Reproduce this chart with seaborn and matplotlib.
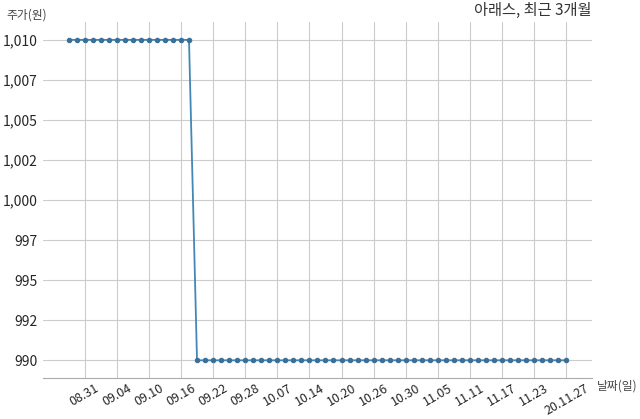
import matplotlib
matplotlib.use("Agg")
import matplotlib.pyplot as plt
import matplotlib.ticker as mticker
import seaborn as sns
import pandas as pd

# trading days (2020) and closing prices
dates = ["08.27", "08.28", "08.31", "09.01", "09.02", "09.03", "09.04",
         "09.07", "09.08", "09.09", "09.10", "09.11", "09.14", "09.15",
         "09.16", "09.17", "09.18", "09.21", "09.22", "09.23", "09.24",
         "09.25", "09.28", "09.29", "10.05", "10.06", "10.07", "10.08",
         "10.12", "10.13", "10.14", "10.15", "10.16", "10.19", "10.20",
         "10.21", "10.22", "10.23", "10.26", "10.27", "10.28", "10.29",
         "10.30", "11.02", "11.03", "11.04", "11.05", "11.06", "11.09",
         "11.10", "11.11", "11.12", "11.13", "11.16", "11.17", "11.18",
         "11.19", "11.20", "11.23", "11.24", "11.25", "11.26", "20.11.27"]
prices = [1010] * 16 + [990] * 47
tick_every = 4

sns.set_style("whitegrid")
plt.rcParams['font.family'] = ['Noto Sans CJK KR', 'DejaVu Sans']

df = pd.DataFrame({"idx": range(len(dates)), "price": prices})

fig = plt.figure(figsize=(6.4, 4.19), dpi=100)
ax = fig.add_axes([0.067, 0.098, 0.858, 0.849])

sns.lineplot(data=df, x="idx", y="price", ax=ax, color="#4387b5",
             linewidth=1.3, marker="o", markersize=3.2,
             markerfacecolor="#3b6f98", markeredgecolor="#3b6f98")

tick_pos = list(range(len(dates) - 1, -1, -tick_every))[::-1]
ax.set_xticks(tick_pos)
ax.set_xticklabels([dates[i] for i in tick_pos], rotation=30, ha="center", fontsize=9)
ax.set_xlim(-3.2, len(dates) - 1 + 3.2)

ax.yaxis.set_major_locator(mticker.MultipleLocator(2.5))
ax.yaxis.set_major_formatter(mticker.FuncFormatter(lambda v, p: f"{int(v):,}"))
ax.set_ylim(988.9, 1011.1)
ax.tick_params(axis="y", labelsize=10, length=0, pad=4)
ax.tick_params(axis="x", length=0, pad=3)

ax.set_xlabel("")
ax.set_ylabel("")
ax.grid(True, color="#cccccc", linewidth=0.8)
for s in ["left", "top", "right"]:
    ax.spines[s].set_visible(False)
ax.spines["bottom"].set_color("#aaaaaa")
ax.spines["bottom"].set_linewidth(0.8)

fig.text(0.925, 0.975, "아래스, 최근 3개월", ha="right", va="center", fontsize=11, color="#333333")
fig.text(0.01, 0.963, "주가(원)", ha="left", va="center", fontsize=8.5, color="#444444")
fig.text(0.932, 0.078, "날짜(일)", ha="left", va="center", fontsize=8.5, color="#444444")

fig.savefig("out.png", dpi=100)
